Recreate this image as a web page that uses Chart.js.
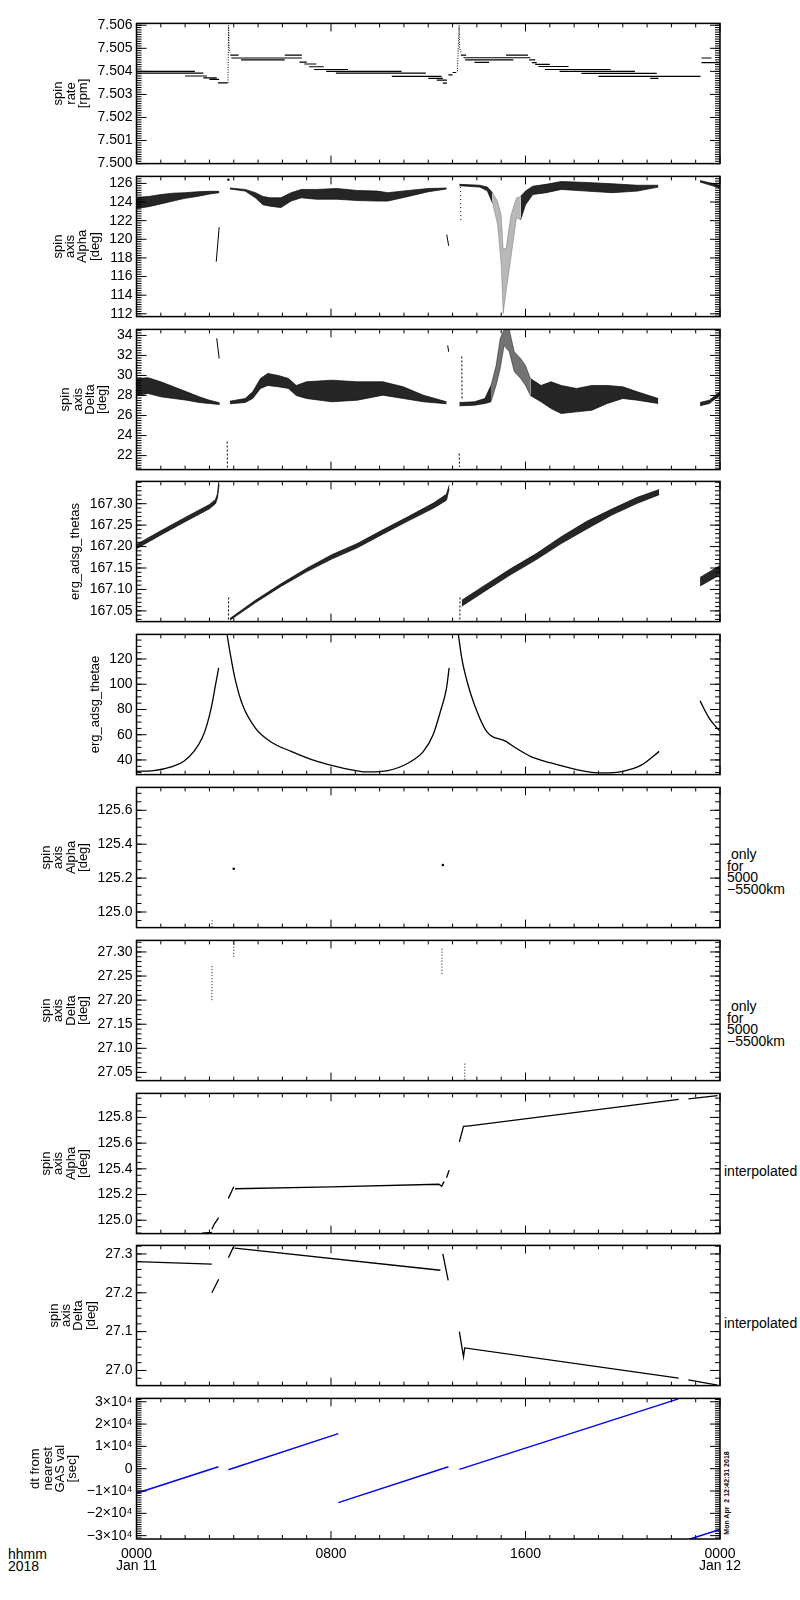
<!DOCTYPE html>
<html><head><meta charset="utf-8"><title>ERG spin axis 2018-01-11</title>
<script src="https://cdn.jsdelivr.net/npm/chart.js@4.4.1/dist/chart.umd.min.js"></script>
<style>
html,body{margin:0;padding:0;background:#fff}
body{position:relative;width:800px;height:1600px;overflow:hidden;font-family:"Liberation Sans",Arial,Helvetica,sans-serif;color:#000}
canvas{position:absolute;left:0}
.lab{position:absolute;font-size:14px;line-height:11.5px;white-space:pre}
.stamp{position:absolute;font-size:7px;font-weight:bold;white-space:pre;transform:translate(-50%,-50%) rotate(-90deg)}
</style></head><body>
<div class="lab" style="left:727px;top:849px"> only
for
5000
−5500km</div>
<div class="lab" style="left:727px;top:1001px"> only
for
5000
−5500km</div>
<div class="lab" style="left:724px;top:1166px">interpolated</div>
<div class="lab" style="left:724px;top:1318px">interpolated</div>
<div class="lab" style="left:8px;top:1548px;line-height:12px">hhmm
2018</div>
<div class="stamp" style="left:726px;top:1493px">Mon Apr  2 12:42:31 2018</div>
<script>
// ---------------- data (hours of 2018-01-11 on x) ----------------
const HOUR_TICKS = [0, 8, 16, 24];
const HOUR_LABELS = [['0000', 'Jan 11'], '0800', '1600', ['0000', 'Jan 12']];

// panel 1: spin rate [rpm]  -- quantised levels [start h, end h, value]
const rateSteps = [
  [0.00, 2.40, 7.50400], [0.00, 2.75, 7.50392], [2.00, 2.90, 7.50380], [2.75, 3.30, 7.50372],
  [3.00, 3.40, 7.50365], [3.35, 3.75, 7.50350],
  [3.86, 4.20, 7.50470], [3.90, 6.80, 7.50458], [4.30, 6.10, 7.50450], [6.10, 6.80, 7.50470],
  [6.70, 7.00, 7.50440], [6.90, 7.40, 7.50432], [7.10, 7.70, 7.50420], [7.30, 8.70, 7.50408],
  [7.80, 10.90, 7.50400], [8.20, 11.90, 7.50392], [10.50, 12.55, 7.50378], [12.00, 12.60, 7.50370],
  [12.35, 12.77, 7.50362], [12.60, 12.77, 7.50349], [12.83, 13.00, 7.50385], [13.00, 13.15, 7.50395],
  [13.34, 13.56, 7.50470], [13.45, 16.20, 7.50459], [13.52, 15.50, 7.50450], [13.90, 14.50, 7.50439],
  [15.20, 16.10, 7.50470], [16.15, 16.40, 7.50450], [16.26, 16.46, 7.50438], [16.40, 17.00, 7.50430],
  [16.53, 17.77, 7.50421], [16.80, 19.50, 7.50408], [17.40, 20.50, 7.50400], [18.30, 21.40, 7.50391],
  [19.00, 23.20, 7.50378], [21.13, 21.47, 7.50370],
  [23.24, 23.65, 7.50458], [23.24, 24.00, 7.50438]
];
const rateSpikeT = [3.76, 3.79, 3.80, 3.83, 3.86, null, 13.20, 13.27, 13.29, 13.32, 13.36];
const rateSpikeV = [7.5035, 7.5060, 7.5052, 7.5049, 7.5048, null, 7.5040, 7.5060, 7.5050, 7.5049, 7.5048];
const rateTicks = [7.500, 7.501, 7.502, 7.503, 7.504, 7.505, 7.506];
const rateLabels = ['7.500', '7.501', '7.502', '7.503', '7.504', '7.505', '7.506'];

// panel 2: spin axis Alpha [deg] (scatter envelopes)
const alphaT1 = [0, 0.5, 1.0, 1.5, 2.0, 2.5, 3.0, 3.4];
const alphaLo1 = [123.3, 123.5, 123.8, 124.1, 124.4, 124.6, 124.85, 125.0];
const alphaHi1 = [124.5, 124.6, 124.8, 124.95, 125.0, 125.1, 125.15, 125.15];
const alphaT2 = [3.84, 4.47, 4.89, 5.2, 5.5, 5.94, 6.36, 6.78, 7.4, 8.24, 9.08, 9.92, 10.34, 11.18, 12.0, 12.75];
const alphaLo2 = [125.4, 125.17, 124.45, 123.7, 123.55, 123.4, 124.1, 124.45, 124.3, 124.3, 124.16, 124.1, 124.1, 124.6, 125.1, 125.4];
const alphaHi2 = [125.5, 125.35, 125.0, 124.6, 124.45, 124.45, 125.0, 125.35, 125.35, 125.45, 125.24, 125.17, 125.0, 125.24, 125.45, 125.5];
const alphaT3 = [13.28, 14.12, 14.43, 14.64];
const alphaLo3 = [125.75, 125.6, 125.2, 123.9];
const alphaHi3 = [125.9, 125.8, 125.6, 125.0];
const alphaTd = [14.64, 14.85, 15.0, 15.08, 15.2, 15.4, 15.63, 15.8];
const alphaLod = [123.9, 121.6, 117.2, 112.0, 114.3, 118.0, 122.3, 122.1];
const alphaHid = [125.0, 124.1, 122.6, 119.0, 119.0, 122.6, 124.45, 124.6];
const alphaT4 = [15.8, 16.0, 16.3, 16.85, 17.47, 18.5, 19.57, 20.6, 21.46];
const alphaLo4 = [122.1, 123.7, 124.8, 125.0, 125.35, 125.17, 125.0, 125.17, 125.6];
const alphaHi4 = [124.6, 125.17, 125.7, 125.9, 126.2, 126.1, 125.96, 125.8, 125.8];
const alphaT5 = [23.18, 24];
const alphaLo5 = [126.15, 125.5];
const alphaHi5 = [126.3, 125.8];
const alphaLineT = [3.28, 3.40, null, 12.76, 12.84];
const alphaLineV = [117.6, 121.3, null, 120.5, 119.3];
const alphaDashT = [13.33, 13.34];
const alphaDashV = [125.6, 121.9];
const alphaDotT = [3.78];
const alphaDotV = [126.4];
const alphaTicks = [112, 114, 116, 118, 120, 122, 124, 126];
const alphaLabels = ['112', '114', '116', '118', '120', '122', '124', '126'];

// panel 3: spin axis Delta [deg]
const deltaT1 = [0, 0.48, 1.0, 1.53, 2.06, 2.58, 3.0, 3.42];
const deltaLo1 = [28.0, 28.2, 27.87, 27.7, 27.53, 27.3, 27.2, 27.1];
const deltaHi1 = [29.7, 29.77, 29.37, 28.87, 28.37, 27.87, 27.53, 27.27];
const deltaT2 = [3.84, 4.47, 4.78, 5.1, 5.4, 5.83, 6.25, 6.57, 6.99, 8.03, 9.08, 10.13, 10.97, 11.8, 12.75];
const deltaLo2 = [27.17, 27.3, 27.7, 28.7, 29.0, 28.87, 28.7, 28.0, 27.7, 27.37, 27.53, 28.03, 27.7, 27.37, 27.17];
const deltaHi2 = [27.43, 27.7, 28.37, 29.7, 30.2, 30.0, 29.7, 29.0, 29.37, 29.53, 29.37, 29.37, 28.87, 28.03, 27.37];
const deltaT3 = [13.28, 13.9, 14.33, 14.58];
const deltaLo3 = [26.97, 27.03, 27.2, 27.37];
const deltaHi3 = [27.3, 27.37, 27.7, 29.0];
const deltaTs = [14.58, 14.79, 14.96, 15.12, 15.33, 15.54, 15.8, 16.0, 16.2];
const deltaLos = [27.37, 29.0, 30.7, 33.0, 32.37, 30.37, 29.7, 29.0, 28.0];
const deltaHis = [29.0, 31.0, 33.7, 34.6, 34.6, 32.37, 31.7, 31.0, 29.7];
const deltaT4 = [16.2, 16.64, 17.05, 17.47, 18.1, 18.73, 19.36, 20.0, 20.6, 21.46];
const deltaLo4 = [28.0, 27.37, 26.7, 26.2, 26.37, 26.53, 27.2, 27.7, 27.53, 27.2];
const deltaHi4 = [29.7, 29.0, 29.37, 29.0, 28.7, 29.0, 29.0, 28.87, 28.37, 27.7];
const deltaT5 = [23.18, 23.56, 24];
const deltaLo5 = [26.97, 27.2, 28.03];
const deltaHi5 = [27.3, 27.53, 28.37];
const deltaLineT = [3.30, 3.40, null, 12.80, 12.84];
const deltaLineV = [33.7, 31.7, null, 33.0, 32.37];
const deltaDashT = [3.73, 3.74, null, 13.27, 13.29, null, 13.38, 13.39];
const deltaDashV = [23.4, 20.6, null, 22.2, 20.87, null, 31.9, 27.7];
const deltaTicks = [22, 24, 26, 28, 30, 32, 34];
const deltaLabels = ['22', '24', '26', '28', '30', '32', '34'];

// panel 4: erg_adsg_thetas
const thetasT1 = [0, 1, 2, 3, 3.25, 3.33, 3.40];
const thetasLo1 = [167.195, 167.227, 167.258, 167.288, 167.300, 167.313, 167.345];
const thetasHi1 = [167.205, 167.237, 167.268, 167.298, 167.310, 167.323, 167.360];
const thetasT2 = [3.84, 4.89, 5.94, 6.99, 8.03, 9.08, 10.13, 11.18, 12.23, 12.75, 12.86];
const thetasLo2 = [167.028, 167.069, 167.107, 167.141, 167.171, 167.197, 167.229, 167.260, 167.290, 167.308, 167.335];
const thetasHi2 = [167.032, 167.075, 167.113, 167.149, 167.181, 167.207, 167.239, 167.270, 167.302, 167.322, 167.343];
const thetasT3 = [13.38, 14.33, 15.38, 16.43, 17.47, 18.52, 19.57, 20.6, 21.5];
const thetasLo3 = [167.061, 167.096, 167.134, 167.169, 167.207, 167.241, 167.274, 167.301, 167.321];
const thetasHi3 = [167.075, 167.110, 167.148, 167.183, 167.223, 167.259, 167.288, 167.315, 167.333];
const thetasT4 = [23.18, 24];
const thetasLo4 = [167.108, 167.134];
const thetasHi4 = [167.128, 167.156];
const thetasDashT = [3.78, 3.79, null, 13.30, 13.31];
const thetasDashV = [167.030, 167.085, null, 167.030, 167.082];
const thetasTicks = [167.05, 167.10, 167.15, 167.20, 167.25, 167.30];
const thetasLabels = ['167.05', '167.10', '167.15', '167.20', '167.25', '167.30'];

// panel 5: erg_adsg_thetae
const thetaeT = [0, 0.7, 1.5, 1.95, 2.37, 2.7, 2.9, 3.1, 3.25, 3.38, null,
  3.73, 3.84, 4.05, 4.36, 4.89, 5.5, 6.36, 7.4, 8.45, 9.5, 10.34, 11.18, 11.8, 12.2, 12.5, 12.75, 12.86, null,
  13.24, 13.38, 13.6, 13.9, 14.4, 15.2, 15.6, 16.2, 17.05, 18.1, 19.15, 20.0, 20.8, 21.5, null,
  23.18, 23.56, 24];
const thetaeV = [31, 31.6, 35, 39, 47, 57.4, 68, 83.7, 99.5, 113, null,
  139, 125.8, 104.7, 83.7, 65.3, 54.7, 46.8, 39, 33.7, 30.5, 31.6, 37.6, 46.8, 60, 78.4, 96.8, 113, null,
  139, 120.5, 102, 83.7, 62.6, 54.7, 49.5, 42.9, 37.6, 32.4, 29.7, 31, 36.3, 46.8, null,
  86.8, 73, 62.6];
const thetaeTicks = [40, 60, 80, 100, 120];
const thetaeLabels = ['40', '60', '80', '100', '120'];

// panel 6/7: spin axis only for 5000-5500 km
const onlyAlphaDashT = [3.10, 3.11];
const onlyAlphaDashV = [124.91, 124.95];
const onlyAlphaDotT = [4.0, 12.6];
const onlyAlphaDotV = [125.255, 125.277];
const onlyAlphaTicks = [125.0, 125.2, 125.4, 125.6];
const onlyAlphaLabels = ['125.0', '125.2', '125.4', '125.6'];
const onlyDeltaT = [3.10, 3.11, null, 4.00, 4.01, null, 12.56, 12.57, null, 13.50, 13.51];
const onlyDeltaV = [27.200, 27.275, null, 27.290, 27.322, null, 27.255, 27.310, null, 27.035, 27.070];
const onlyDeltaTicks = [27.05, 27.10, 27.15, 27.20, 27.25, 27.30];
const onlyDeltaLabels = ['27.05', '27.10', '27.15', '27.20', '27.25', '27.30'];

// panel 8/9: interpolated
const interpAT = [2.7, 3.1, null, 3.1, 3.2, 3.38, null, 3.78, 4.0, null, 4.05, 8.0, 12.44, 12.55, 12.65, null,
  12.75, 12.86, null, 13.28, 13.45, 13.7, 22.3, null, 22.7, 23.9];
const interpAV = [124.9, 124.905, null, 124.93, 124.97, 125.02, null, 125.17, 125.26, null, 125.245, 125.26, 125.28, 125.265, 125.30, null,
  125.33, 125.39, null, 125.61, 125.73, 125.735, 125.94, null, 125.945, 125.97];
const interpATicks = [125.0, 125.2, 125.4, 125.6, 125.8];
const interpALabels = ['125.0', '125.2', '125.4', '125.6', '125.8'];
const interpDT = [0, 3.1, null, 3.1, 3.38, null, 3.78, 4.0, null, 4.05, 12.5, null, 12.6, 12.82, null,
  13.28, 13.45, 13.5, 22.3, null, 22.7, 23.9];
const interpDV = [27.28, 27.274, null, 27.20, 27.235, null, 27.29, 27.32, null, 27.315, 27.258, null, 27.30, 27.232, null,
  27.10, 27.035, 27.058, 26.98, null, 26.976, 26.962];
const interpDTicks = [27.0, 27.1, 27.2, 27.3];
const interpDLabels = ['27.0', '27.1', '27.2', '27.3'];

// panel 10: dt from nearest GAS val [sec]
const dtT = [0, 3.37, null, 3.78, 8.3, null, 8.3, 12.83, null, 13.28, 22.29, null, 22.77, 24];
const dtV = [-11000, 900, null, -450, 15700, null, -15200, 900, null, -300, 31300, null, -31500, -27200];
const dtTicks = [-30000, -20000, -10000, 0, 10000, 20000, 30000];
const dtLabels = ['−3×10⁴', '−2×10⁴', '−1×10⁴', '0', '1×10⁴', '2×10⁴', '3×10⁴'];

// ---------------- layout ----------------
const PLOT_L = 136.5, PLOT_R = 720, PANEL_H = 141;
const PANEL_TOPS = [23, 176, 329, 481, 634, 787, 940, 1093, 1245, 1398];
const TITLE_LH = 12.3;
const FONT = '"Liberation Sans", Arial, Helvetica, sans-serif';
Chart.defaults.font.family = FONT;
Chart.defaults.color = '#000';

const DARK = 'rgba(0,0,0,0.85)', MID = 'rgba(0,0,0,0.55)', SPARSE = 'rgba(0,0,0,0.28)';

function pts(t, v) { return t.map((x, i) => ({ x: x === null ? (t[i - 1] ?? 0) : x, y: v[i] })); }
function line(t, v, o) { return Object.assign({ data: pts(t, v), borderColor: '#000', borderWidth: 1, pointRadius: 0, fill: false, tension: 0 }, o || {}); }
function band(t, lo, hi, col) {
  return [
    { data: pts(t, hi), borderColor: col, backgroundColor: col, borderWidth: 0.8, pointRadius: 0, fill: '+1' },
    { data: pts(t, lo), borderColor: col, borderWidth: 0.8, pointRadius: 0, fill: false }
  ];
}
function dots(t, v, r) { return { data: pts(t, v), showLine: false, pointRadius: r || 1, pointBackgroundColor: '#000', pointBorderWidth: 0, borderColor: '#000' }; }
function steps(list) {
  const d = [];
  list.forEach(([a, b, v]) => { d.push({ x: a, y: v }, { x: b, y: v }, { x: b, y: null }); });
  return { data: d, borderColor: '#000', borderWidth: 1.2, pointRadius: 0, fill: false };
}

const mctx = document.createElement('canvas').getContext('2d');
mctx.font = '14px ' + FONT;
function titlePad(labels, n) {
  const w = Math.max(...labels.map(s => mctx.measureText(s).width));
  const right = PLOT_L - 4 - w - 8;
  return right - n * TITLE_LH;
}

const idlFrame = {
  id: 'idlFrame',
  afterDatasetsDraw(chart, _a, opts) {
    const { ctx, chartArea: a } = chart;
    const xs = chart.scales.x, ys = chart.scales.y;
    ctx.save();
    ctx.strokeStyle = '#000';
    ctx.lineWidth = 1;
    ctx.beginPath();
    for (let h = 0; h <= 24; h++) {
      const px = xs.getPixelForValue(h);
      const len = h % 8 === 0 ? 8 : 4;
      ctx.moveTo(px, a.bottom); ctx.lineTo(px, a.bottom - len);
      ctx.moveTo(px, a.top); ctx.lineTo(px, a.top + len);
    }
    const st = opts.minor;
    for (let k = Math.ceil(ys.min / st - 1e-6); k * st <= ys.max + st * 1e-6; k++) {
      const py = ys.getPixelForValue(k * st);
      ctx.moveTo(a.left, py); ctx.lineTo(a.left + 5, py);
      ctx.moveTo(a.right, py); ctx.lineTo(a.right - 5, py);
    }
    for (const t of ys.ticks) {
      const py = ys.getPixelForValue(t.value);
      ctx.moveTo(a.left, py); ctx.lineTo(a.left + 10, py);
      ctx.moveTo(a.right, py); ctx.lineTo(a.right - 10, py);
    }
    ctx.stroke();
    ctx.lineWidth = 1.5;
    ctx.strokeRect(a.left, a.top, a.right - a.left, a.bottom - a.top);
    ctx.restore();
  }
};

const SPIN_ALPHA = ['spin', 'axis', 'Alpha', '[deg]'];
const SPIN_DELTA = ['spin', 'axis', 'Delta', '[deg]'];

const panels = [
  { title: ['spin', 'rate', '[rpm]'], min: 7.500, max: 7.50608, ticks: rateTicks, labels: rateLabels, minor: 0.0001,
    datasets: [steps(rateSteps), line(rateSpikeT, rateSpikeV, { borderDash: [1, 1.5] })] },
  { title: SPIN_ALPHA, min: 111.7, max: 126.75, ticks: alphaTicks, labels: alphaLabels, minor: 0.25,
    datasets: [...band(alphaT1, alphaLo1, alphaHi1, DARK), ...band(alphaT2, alphaLo2, alphaHi2, DARK),
      ...band(alphaT3, alphaLo3, alphaHi3, DARK), ...band(alphaTd, alphaLod, alphaHid, SPARSE),
      ...band(alphaT4, alphaLo4, alphaHi4, DARK), ...band(alphaT5, alphaLo5, alphaHi5, DARK),
      line(alphaLineT, alphaLineV), line(alphaDashT, alphaDashV, { borderDash: [1, 3] }), dots(alphaDotT, alphaDotV, 1.2)] },
  { title: SPIN_DELTA, min: 20.6, max: 34.6, ticks: deltaTicks, labels: deltaLabels, minor: 0.25,
    datasets: [...band(deltaT1, deltaLo1, deltaHi1, DARK), ...band(deltaT2, deltaLo2, deltaHi2, DARK),
      ...band(deltaT3, deltaLo3, deltaHi3, DARK), ...band(deltaTs, deltaLos, deltaHis, MID),
      ...band(deltaT4, deltaLo4, deltaHi4, DARK), ...band(deltaT5, deltaLo5, deltaHi5, DARK),
      line(deltaLineT, deltaLineV), line(deltaDashT, deltaDashV, { borderDash: [2, 2] })] },
  { title: 'erg_adsg_thetas', min: 167.025, max: 167.352, ticks: thetasTicks, labels: thetasLabels, minor: 0.01,
    datasets: [...band(thetasT1, thetasLo1, thetasHi1, DARK), ...band(thetasT2, thetasLo2, thetasHi2, DARK),
      ...band(thetasT3, thetasLo3, thetasHi3, DARK), ...band(thetasT4, thetasLo4, thetasHi4, DARK),
      line(thetasDashT, thetasDashV, { borderDash: [2, 2] })] },
  { title: 'erg_adsg_thetae', min: 28.4, max: 139.5, ticks: thetaeTicks, labels: thetaeLabels, minor: 5,
    datasets: [line(thetaeT, thetaeV, { borderWidth: 1.3, cubicInterpolationMode: 'monotone' })] },
  { title: SPIN_ALPHA, min: 124.908, max: 125.735, ticks: onlyAlphaTicks, labels: onlyAlphaLabels, minor: 0.05,
    datasets: [line(onlyAlphaDashT, onlyAlphaDashV, { borderDash: [1, 2] }), dots(onlyAlphaDotT, onlyAlphaDotV, 1.3)] },
  { title: SPIN_DELTA, min: 27.033, max: 27.324, ticks: onlyDeltaTicks, labels: onlyDeltaLabels, minor: 0.01,
    datasets: [line(onlyDeltaT, onlyDeltaV, { borderDash: [1, 2] })] },
  { title: SPIN_ALPHA, min: 124.896, max: 125.987, ticks: interpATicks, labels: interpALabels, minor: 0.05,
    datasets: [line(interpAT, interpAV, { borderWidth: 1.3 })] },
  { title: SPIN_DELTA, min: 26.961, max: 27.322, ticks: interpDTicks, labels: interpDLabels, minor: 0.02,
    datasets: [line(interpDT, interpDV, { borderWidth: 1.3 })] },
  { title: ['dt from', 'nearest', 'GAS val', '[sec]'], min: -31500, max: 31500, ticks: dtTicks, labels: dtLabels, minor: 1000,
    datasets: [line(dtT, dtV, { borderColor: '#0000ff', borderWidth: 1.5 })] }
];

function makeChart(p, i) {
  const last = i === panels.length - 1;
  const PAD = 12, XH = last ? 50 : 0;
  const h = PAD + PANEL_H + (last ? XH : PAD);
  const cv = document.createElement('canvas');
  cv.width = 800; cv.height = h;
  cv.style.width = '800px'; cv.style.height = h + 'px';
  cv.style.top = (PANEL_TOPS[i] - PAD) + 'px';
  document.body.appendChild(cv);
  const n = Array.isArray(p.title) ? p.title.length : 1;
  new Chart(cv, {
    type: 'line',
    data: { datasets: p.datasets },
    options: {
      responsive: false, animation: false, devicePixelRatio: 1, events: [],
      layout: { padding: { left: 0, right: 800 - PLOT_R, top: PAD, bottom: last ? 0 : PAD } },
      plugins: { legend: { display: false }, tooltip: { enabled: false }, idlFrame: { minor: p.minor } },
      scales: {
        x: {
          type: 'linear', min: 0, max: 24,
          grid: { display: false, drawTicks: false }, border: { display: false },
          afterBuildTicks: s => { s.ticks = HOUR_TICKS.map(v => ({ value: v })); },
          afterFit: s => { s.height = XH; },
          ticks: { display: last, padding: 9, autoSkip: false, maxRotation: 0, color: '#000',
            font: { size: 14, lineHeight: '12px' }, callback: (v, k) => HOUR_LABELS[k] }
        },
        y: {
          type: 'linear', min: p.min, max: p.max,
          grid: { display: false, drawTicks: false }, border: { display: false },
          afterBuildTicks: s => { s.ticks = p.ticks.map(v => ({ value: v })); },
          afterFit: s => { s.width = PLOT_L; },
          ticks: { padding: 4, autoSkip: false, color: '#000', font: { size: 14 }, callback: (v, k) => p.labels[k] },
          title: { display: true, text: p.title, color: '#000',
            font: { size: 13, lineHeight: TITLE_LH + 'px' },
            padding: { top: titlePad(p.labels, n), bottom: 0 } }
        }
      }
    },
    plugins: [idlFrame]
  });
}
panels.forEach(makeChart);
</script>
</body></html>
